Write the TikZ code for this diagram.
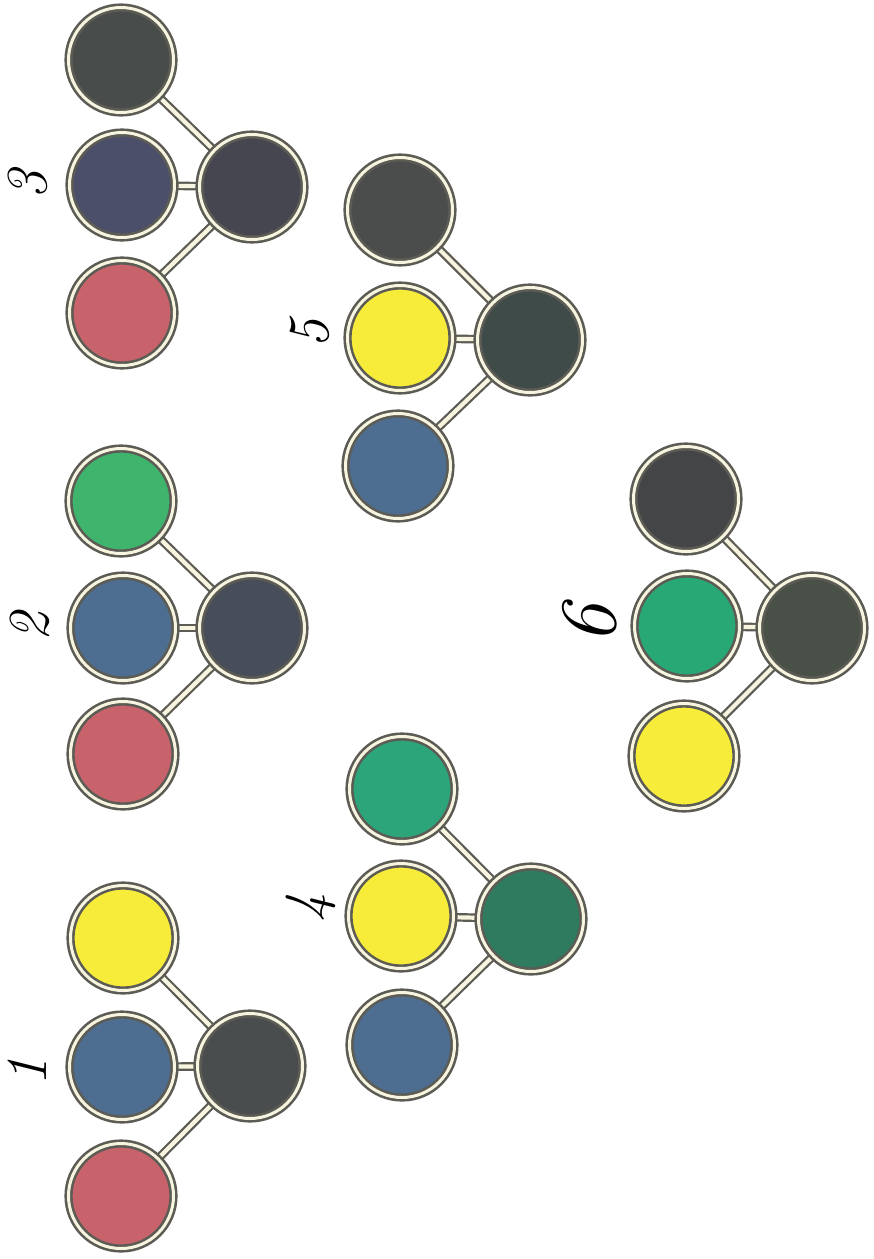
\documentclass[tikz,border=0pt]{standalone}
\usepackage{fontspec}
\usetikzlibrary{backgrounds}
\definecolor{ring}{HTML}{5C5C55}
\definecolor{cream}{HTML}{F7F4E0}
\definecolor{cred}{HTML}{C8636C}
\definecolor{cblue}{HTML}{4D6E91}
\definecolor{cblueb}{HTML}{4C4F6A}
\definecolor{cyel}{HTML}{F8EC3A}
\definecolor{cgreena}{HTML}{3FB46C}
\definecolor{cgreenb}{HTML}{2DA57A}
\definecolor{cgreenc}{HTML}{27A874}
\definecolor{cdarka}{HTML}{4A4D4E}
\definecolor{cdarkb}{HTML}{484D5A}
\definecolor{cdarkc}{HTML}{484C4A}
\definecolor{cdarkd}{HTML}{45464F}
\definecolor{cdarke}{HTML}{2E7B60}
\definecolor{cdarkf}{HTML}{4B4D4C}
\definecolor{cdarkg}{HTML}{3F4B48}
\definecolor{cdarkh}{HTML}{444546}
\definecolor{cdarki}{HTML}{495048}
\begin{document}
\begin{tikzpicture}[x=1pt,y=-1pt,
  ball/.style={circle, inner sep=0pt, minimum size=105pt, draw=ring,
    line width=2.6pt, double=cream, double distance=3pt, fill=#1},
  link/.style={draw=ring, line width=2.2pt, double=cream, double distance=4.2pt},
  num/.style={rotate=90, font=\fontsize{58}{60}\selectfont\itshape, inner sep=0pt}]
\useasboundingbox (0,0) rectangle (874,1259);

% group 1
\node[ball=cyel]  (A1) at (123,938) {};
\node[ball=cblue] (B1) at (122,1067) {};
\node[ball=cred]  (C1) at (121,1196) {};
\node[ball=cdarka] (R1) at (250,1066) {};
% group 2
\node[ball=cgreena] (A2) at (121,501) {};
\node[ball=cblue]   (B2) at (123,628) {};
\node[ball=cred]    (C2) at (123,754) {};
\node[ball=cdarkb]  (R2) at (252,628) {};
% group 3
\node[ball=cdarkc] (A3) at (121,60) {};
\node[ball=cblueb] (B3) at (122,185) {};
\node[ball=cred]   (C3) at (122,313) {};
\node[ball=cdarkd] (R3) at (252,187) {};
% group 4
\node[ball=cgreenb] (A4) at (402,789) {};
\node[ball=cyel]    (B4) at (401,916) {};
\node[ball=cblue]   (C4) at (402,1045) {};
\node[ball=cdarke]  (R4) at (531,919) {};
% group 5
\node[ball=cdarkf] (A5) at (400,210) {};
\node[ball=cyel]   (B5) at (400,338) {};
\node[ball=cblue]  (C5) at (398,466) {};
\node[ball=cdarkg] (R5) at (530,340) {};
% group 6
\node[ball=cdarkh]  (A6) at (686,499) {};
\node[ball=cgreenc] (B6) at (687,626) {};
\node[ball=cyel]    (C6) at (684,756) {};
\node[ball=cdarki]  (R6) at (812,628) {};

\begin{pgfonlayer}{background}
\fill[white] (0,0) rectangle (874,1259);
\foreach \g in {1,...,6}{
  \draw[link] (R\g.center) -- (A\g.center);
  \draw[link] (R\g.center) -- (B\g.center);
  \draw[link] (R\g.center) -- (C\g.center);
}
\end{pgfonlayer}

\node[num] (L1) at (27,1072) {1};
\node[num] (L2) at (30,627) {2};
\node[num] (L3) at (28,185) {3};
\node[num] (L4) at (311,908) {4};
\node[num] (L5) at (310,334) {5};
\node[num, font=\fontsize{80}{84}\selectfont\itshape] (L6) at (590,624) {6};
\end{tikzpicture}
\end{document}
